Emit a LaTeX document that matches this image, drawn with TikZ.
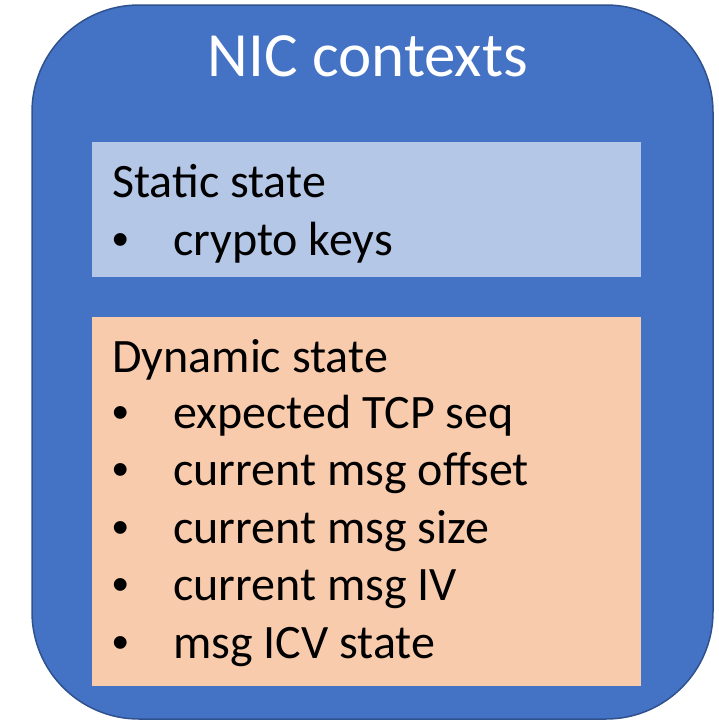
\documentclass[tikz,border=0pt]{standalone}
\usepackage{fontspec}
\setmainfont{Carlito}
\newfontfamily\dotfont{Liberation Sans}
\usetikzlibrary{positioning}
\definecolor{ctxblue}{HTML}{4472C4}
\definecolor{ctxedge}{HTML}{2F528F}
\definecolor{staticfill}{HTML}{B4C7E7}
\definecolor{dynfill}{HTML}{F8CBAD}

\begin{document}
\begin{tikzpicture}[x=1pt,y=-1pt,
		ctx/.style={rectangle, draw=ctxedge, line width=1.5pt, fill=ctxblue,
			rounded corners=107pt, minimum width=681pt, minimum height=714pt},
		region/.style={rectangle, inner sep=0pt, minimum width=549pt},
		line/.style={anchor=base west, inner sep=0pt,
			font=\fontsize{48}{57}\selectfont},
		dot/.style={line, font=\dotfont\fontsize{47}{56}\selectfont},
		title/.style={anchor=base, inner sep=0pt, text=white,
			font=\fontsize{63}{75}\selectfont}]
		\useasboundingbox (0,0) rectangle (719,721);

		\node[ctx] (NIC) at (372.5,362) {};
		\node[title] (Title) at (368,76) {NIC contexts};

		% static part
		\node[region, fill=staticfill, minimum height=135pt] (Static) at (366.5,209.5) {};
		\node[line] (StaticHead) at (112,197) {Static state};
		\node[dot] (StaticDot) at (112,255) {•};
		\node[line] (Keys) at (173,255) {crypto keys};

		% dynamic part
		\node[region, fill=dynfill, minimum height=369pt] (Dynamic) at (366.5,501.5) {};
		\node[line] (DynHead) at (112,372) {Dynamic state};
		\foreach \txt [count=\i] in {expected TCP seq, current msg offset,
			current msg size, current msg IV, msg ICV state} {
			\node[dot] (DynDot\i) at (112,{428+57.5*(\i-1)}) {•};
			\node[line] (Dyn\i) at (173,{428+57.5*(\i-1)}) {\txt};
		}
	\end{tikzpicture}
\end{document}
